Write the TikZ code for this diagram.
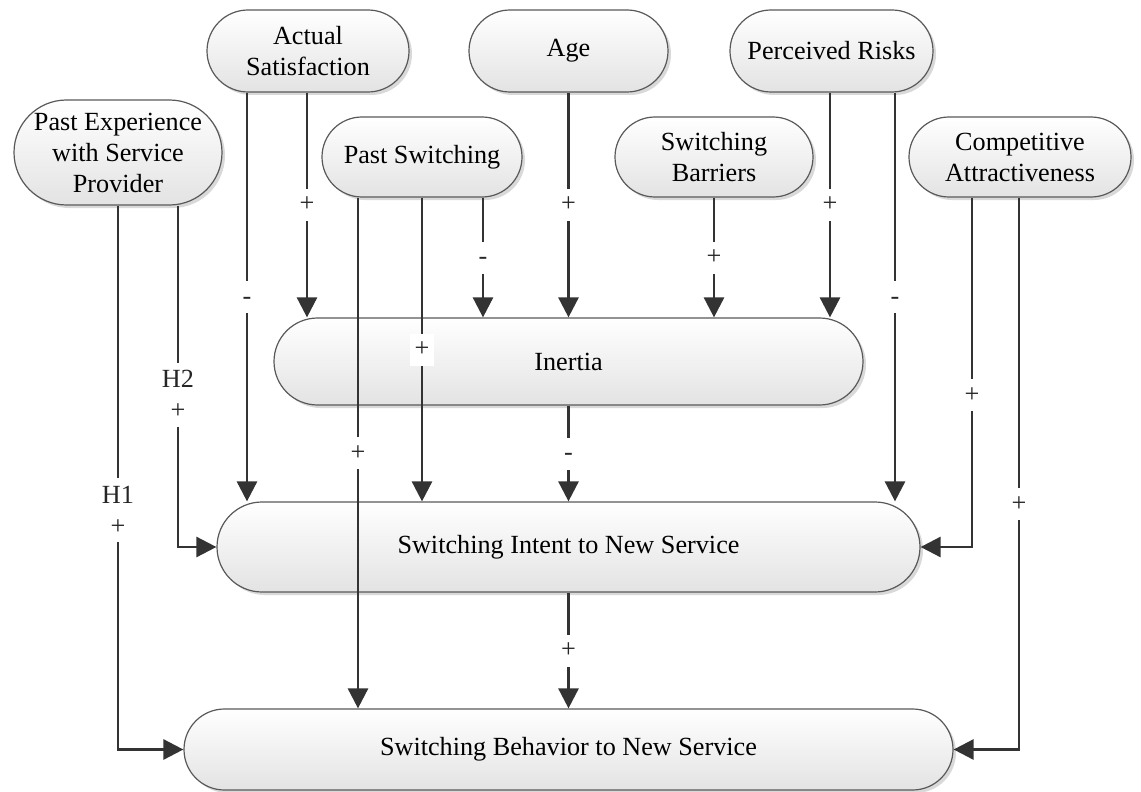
\documentclass[tikz,border=0pt]{standalone}
\usepackage{fontspec}
\setmainfont{Liberation Serif}
\usepackage{tikz}
\usetikzlibrary{shapes.misc, shadows, arrows.meta}

\begin{document}
\begin{tikzpicture}[x=0.5pt, y=-0.5pt, >={Triangle[length=10pt,width=10pt]},
                font=\fontsize{13.1}{15.5}\selectfont]

                % Define the styles for the factors and the links
                \tikzset{factor/.style={rounded rectangle, draw=black!65, line width=0.6pt,
                        top color=white, bottom color=black!11, align=center, inner sep=1pt,
                        drop shadow={shadow xshift=1.5pt, shadow yshift=-1.5pt, opacity=0.25, fill=black!60}},
                    link/.style={draw=black!80, line width=1.35pt},
                    elbow/.style={to path={|- (\tikztotarget) \tikztonodes}},
                    sign/.style={fill=white, inner sep=2.5pt, text height=9pt, text depth=2pt, text=black!85},
                    hypo/.style={fill=white, inner sep=4pt, text=black!85, align=center}}

                \useasboundingbox (0,0) rectangle (1141,792);

                % Nodes
                \node[factor, minimum width=103pt, minimum height=41pt] (sat) at (308,51) {Actual\\Satisfaction};
                \node[factor, minimum width=101.5pt, minimum height=41pt] (age) at (568.5,51) {Age};
                \node[factor, minimum width=103.5pt, minimum height=41pt] (risk) at (831.5,51) {Perceived Risks};
                \node[factor, minimum width=106pt, minimum height=52.5pt] (past) at (118,152.5) {Past Experience\\with Service\\Provider};
                \node[factor, minimum width=102pt, minimum height=40pt] (pswitch) at (422,157) {Past Switching};
                \node[factor, minimum width=101pt, minimum height=40pt] (barrier) at (714,157) {Switching\\Barriers};
                \node[factor, minimum width=113pt, minimum height=40pt] (attract) at (1020,157) {Competitive\\Attractiveness};
                \node[factor, minimum width=296.5pt, minimum height=43.5pt] (inertia) at (568.5,361.5) {Inertia};
                \node[factor, minimum width=353.5pt, minimum height=45pt] (intent) at (568.5,547) {Switching Intent to New Service};
                \node[factor, minimum width=386.5pt, minimum height=40.5pt] (behav) at (568.5,749.5) {Switching Behavior to New Service};

                % Paths
                \path[->, every edge/.style=link]
                (past.south -| 118,0) edge[elbow] node[hypo, pos=0.28] {H1\\+} (behav.west)
                (past.south -| 178,0) edge[elbow] node[hypo, pos=0.277] {H2\\+} (intent.west)
                (sat.south -| 247,0) edge node[sign] {-} (intent.north -| 247,0)
                (sat.south -| 307,0) edge node[sign] {+} (inertia.north -| 307,0)
                (pswitch.south -| 358,0) edge node[sign] {+} (behav.north -| 358,0)
                (pswitch.south -| 422,0) edge node[sign] {+} (intent.north -| 422,0)
                (pswitch.south -| 483,0) edge node[sign] {-} (inertia.north -| 483,0)
                (age.south) edge node[sign] {+} (inertia.north -| age.south)
                (barrier.south) edge node[sign] {+} (inertia.north -| barrier.south)
                (risk.south -| 830,0) edge node[sign] {+} (inertia.north -| 830,0)
                (risk.south -| 895,0) edge node[sign] {-} (intent.north -| 895,0)
                (inertia.south) edge node[sign] {-} (intent.north)
                (attract.south -| 972,0) edge[elbow] node[sign, pos=0.283] {+} (intent.east)
                (attract.south -| 1019,0) edge[elbow] node[sign, pos=0.278] {+} (behav.east)
                (intent.south) edge node[sign] {+} (behav.north);
            \end{tikzpicture}
\end{document}
